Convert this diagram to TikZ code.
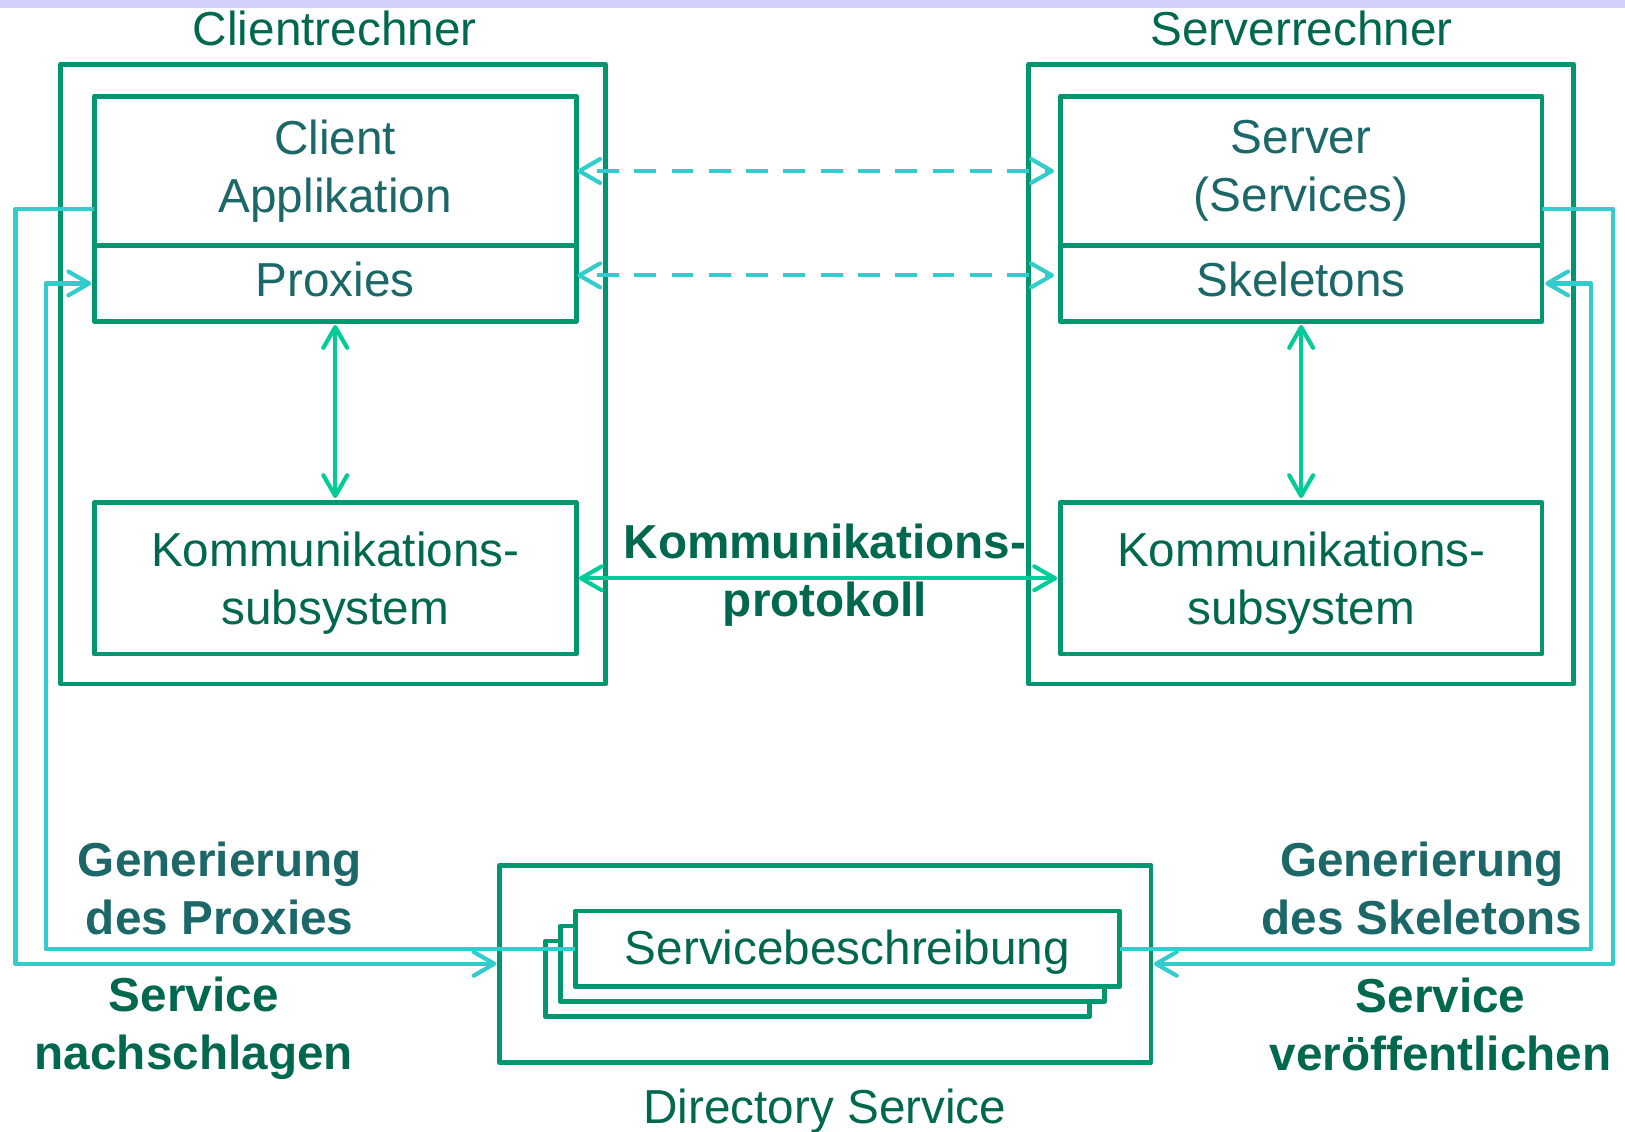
\documentclass[tikz,border=0pt]{standalone}
\usepackage{fontspec}
\setmainfont{Liberation Sans}
\usetikzlibrary{arrows.meta}
\definecolor{boxgreen}{RGB}{0,150,112}
\definecolor{tealtxt}{RGB}{28,104,104}
\definecolor{greentxt}{RGB}{0,104,78}
\definecolor{cyanln}{RGB}{51,204,204}
\definecolor{greenarr}{RGB}{0,204,153}
\definecolor{bandcol}{RGB}{208,208,250}
\begin{document}
\begin{tikzpicture}[x=0.5pt,y=-0.5pt,
  vh/.tip={Straight Barb[round,length=10pt,width=11.5pt]},
  box/.style={draw=boxgreen,line width=2.3pt,line join=round,fill=white,inner sep=0pt,outer sep=0pt,rectangle},
  txt/.style={font=\fontsize{23}{28}\selectfont,inner sep=0pt,outer sep=0pt,align=center},
  btxt/.style={font=\fontsize{23}{28}\selectfont\bfseries,inner sep=0pt,outer sep=0pt,align=center},
  conn/.style={draw=cyanln,line width=2pt,line join=round},
  dashconn/.style={conn,dash pattern=on 10.5pt off 7.5pt,dash phase=10.5pt},
  garr/.style={draw=greenarr,line width=2pt,vh-vh},
  inner/.style={box,minimum width=232.5pt},
  sheet/.style={box,minimum width=262.75pt,minimum height=36.5pt}
]
\useasboundingbox (0,0) rectangle (1568,1092);
\fill[white] (0,0) rectangle (1568,1092);
\fill[bandcol] (0,0) rectangle (1568,7.7);

% outer machines
\node[box,fill=none,minimum width=263pt,minimum height=299pt] (cout) at (321.5,361) {};
\node[box,fill=none,minimum width=263pt,minimum height=299pt] (sout) at (1255.5,361) {};
\node[txt,text=greentxt,anchor=base] (clbl) at (323,44) {Clientrechner};
\node[txt,text=greentxt,anchor=base] (slbl) at (1256,44) {Serverrechner};

% client side
\node[inner,minimum height=72pt,txt,text=tealtxt] (capp) at (323.5,165) {Client\\Applikation};
\node[inner,minimum height=36.5pt,txt,text=tealtxt,text height=16.75pt,text depth=4.25pt] (prox) at (323.5,273.5) {Proxies};
\node[inner,minimum height=73pt] (ckom) at (323.5,558) {};
\node[txt,text=greentxt] (ckomt) at (323.5,563) {Kommunikations-\\subsystem};

% server side
\node[inner,minimum height=72pt,txt,text=tealtxt] (sapp) at (1255.5,165) {Server\\(Services)};
\node[inner,minimum height=36.5pt,txt,text=tealtxt,text height=16.75pt,text depth=4.25pt] (skel) at (1255.5,273.5) {Skeletons};
\node[inner,minimum height=73pt] (skom) at (1255.5,558) {};
\node[txt,text=greentxt] (skomt) at (1255.5,563) {Kommunikations-\\subsystem};

% directory service
\node[box,fill=none,minimum width=314.25pt,minimum height=95pt] (dir) at (796.25,930) {};
\node[sheet] (sb3) at (788.75,944.5) {};
\node[sheet] (sb2) at (803.25,930) {};
\node[sheet,txt,text=greentxt,text height=16.75pt,text depth=1.25pt] (sb1) at (817.75,915.5) {Servicebeschreibung};
\node[txt,text=greentxt,anchor=base] (dlbl) at (796,1084) {Directory Service};

% bold labels
\node[btxt,text=greentxt] (kp) at (796,555.3) {Kommunikations-\\protokoll};
\node[btxt,text=tealtxt] (gp) at (212,857) {Generierung\\des Proxies};
\node[btxt,text=greentxt] (sn) at (187,992.5) {Service\\nachschlagen};
\node[btxt,text=tealtxt] (gs) at (1372,857.3) {Generierung\\des Skeletons};
\node[btxt,text=greentxt] (sv) at (1390,988.3) {Service\\veröffentlichen};

% internal arrows
\draw[garr,shorten <=1.8pt,shorten >=2.2pt] (prox.south) -- (ckom.north);
\draw[garr,shorten <=1.8pt,shorten >=2.2pt] (skel.south) -- (skom.north);
\draw[garr,shorten <=1.3pt,shorten >=1.5pt] (ckom.east) -- (skom.west);

% dashed logical connections
\draw[dashconn,vh-vh,shorten <=0.5pt,shorten >=3pt] (capp.east) -- (sapp.west);
\draw[dashconn,vh-vh,shorten <=0.5pt,shorten >=3pt] ([yshift=3.9pt]prox.east) -- ([yshift=3.9pt]skel.west);

% service connectors
\coordinate (l1) at (15,930);
\coordinate (l2) at (44,273.5);
\coordinate (r1) at (1556.5,930);
\coordinate (r2) at (1535.5,273.5);
\draw[conn,-vh,shorten >=1.5pt] ([yshift=-18.35pt]capp.west) -| (l1) -- (dir.west);
\draw[conn,-vh,shorten >=1.5pt] (sb1.west) -| (l2) -- (prox.west);
\draw[conn,-vh,shorten >=1.5pt] ([yshift=-18.35pt]sapp.east) -| (r1) -- (dir.east);
\draw[conn,-vh,shorten >=1.5pt] (sb1.east) -| (r2) -- (skel.east);
\end{tikzpicture}
\end{document}
